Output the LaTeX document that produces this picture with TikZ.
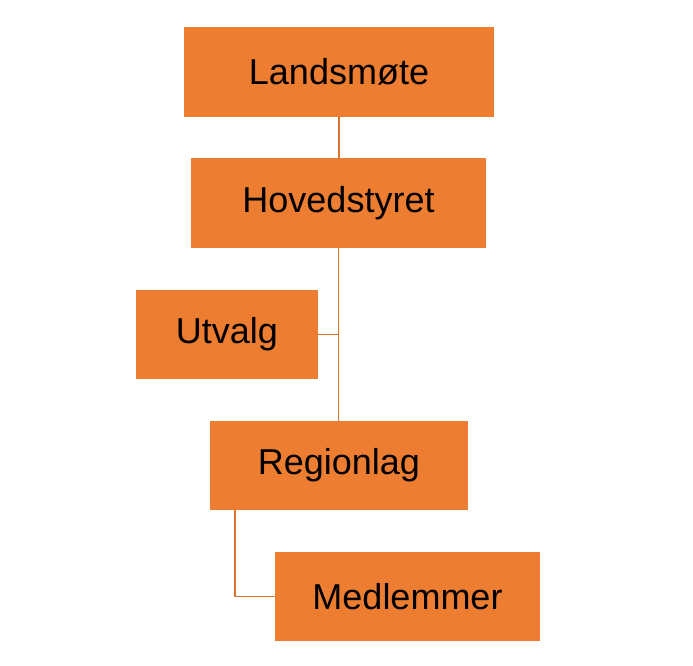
\documentclass[tikz,border=0pt]{standalone}
\usepackage{fontspec}
\setmainfont{Liberation Sans}
\definecolor{org}{HTML}{ED7D31}
\definecolor{lnk}{HTML}{D8732E}
\begin{document}
\begin{tikzpicture}[x=1pt,y=-1pt,
  box/.style={fill=org,inner sep=0pt,font=\fontsize{36}{40}\selectfont},
  link/.style={draw=lnk,line width=1.2pt}]
\useasboundingbox (0,0) rectangle (693,665);
\node[box,minimum width=310pt,minimum height=90pt] (L) at (339,72) {Landsmøte};
\node[box,minimum width=295pt,minimum height=90pt] (H) at (338.5,203) {Hovedstyret};
\node[box,minimum width=182pt,minimum height=89pt] (U) at (227,334.5) {Utvalg};
\node[box,minimum width=258pt,minimum height=89pt] (R) at (339,465.5) {Regionlag};
\node[box,minimum width=265pt,minimum height=89pt] (M) at (407.5,596.5) {Medlemmer};
\draw[link] (L.south) -- (L.south |- H.north);
\draw[link] (H.south) -- (H.south |- R.north);
\draw[link] (U.east) -- (U.east -| H.south);
\coordinate (rs) at (235,510);
\draw[link] (rs) |- (M.west);
\end{tikzpicture}
\end{document}
